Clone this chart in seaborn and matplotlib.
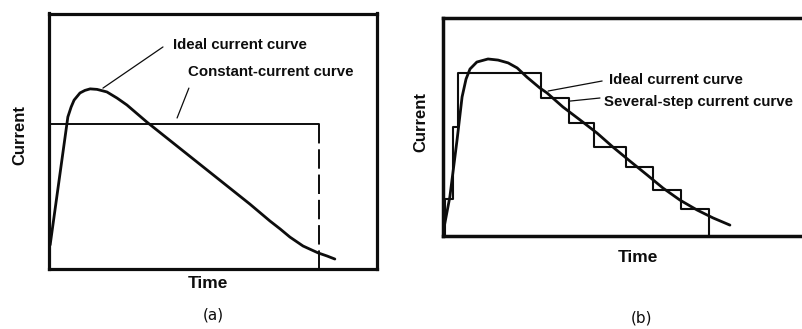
import matplotlib
matplotlib.use("Agg")
import matplotlib.pyplot as plt
import seaborn as sns

# ---------------- data (arbitrary units, 0-100 scale) ----------------
# Panel (a)
a_ideal_time = [0.5, 5.9, 6.9, 7.8, 9.6, 11.1, 12.7, 14.8, 17.8, 20.9, 23.9, 30.0,
                61.4, 67.5, 70.6, 73.6, 77.6, 82.2, 84.9, 87.3]
a_ideal_current = [9.4, 59.5, 63.4, 66.1, 68.9, 69.9, 70.5, 70.3, 69.3, 66.9, 64.2, 57.5,
                   25.4, 18.8, 15.7, 12.5, 9.0, 6.3, 5.1, 3.9]
a_const_time = [0.0, 82.5]
a_const_current = [56.8, 56.8]
a_cutoff_time = [82.5, 82.5]
a_cutoff_current = [56.8, 0.0]

# Panel (b)
b_ideal_time = [0.0, 1.9, 3.9, 5.3, 6.4, 7.5, 9.4, 12.5, 15.3, 18.1, 20.6, 23.3, 26.9,
                28.9, 33.3, 38.1, 42.8, 47.2, 51.9, 56.7, 61.1, 65.8, 70.6, 75.0, 79.7]
b_ideal_current = [1.4, 17.9, 44.0, 63.8, 72.0, 76.6, 79.8, 81.2, 80.7, 79.4, 77.1, 72.9, 67.9,
                   65.6, 59.2, 53.2, 47.2, 40.8, 34.4, 28.0, 22.0, 16.5, 11.9, 8.3, 5.0]
b_step_time = [0.6, 0.6, 2.8, 4.2, 27.2, 35.0, 41.9, 50.8, 58.3, 66.1, 73.9]
b_step_current = [0.0, 17.0, 50.0, 74.8, 63.3, 51.8, 40.8, 31.7, 21.1, 12.4, 0.0]

x_label = "Time"
y_label = "Current"
a_labels = ["Ideal current curve", "Constant-current curve"]
b_labels = ["Ideal current curve", "Several-step current curve"]
panel_tags = ["(a)", "(b)"]

# ---------------- figure ----------------
sns.set_theme(style="white")
plt.rcParams["font.family"] = ["Liberation Sans", "DejaVu Sans"]

W, H = 802, 329
fig = plt.figure(figsize=(W / 100, H / 100), dpi=100)
fig.patch.set_facecolor("white")


def fx(x):
    return x / W


def fy(y):
    return 1 - y / H


axA = fig.add_axes([fx(48.5), fy(269), 328 / W, 255.5 / H])
axB = fig.add_axes([fx(443), fy(236), 396 / W, 218 / H])

K = "#0d0d0d"

# Panel (a)
sns.lineplot(x=a_ideal_time, y=a_ideal_current, ax=axA, color=K, lw=2.0,
             estimator=None, sort=False)
sns.lineplot(x=a_const_time, y=a_const_current, ax=axA, color=K, lw=1.4,
             estimator=None, sort=False)
sns.lineplot(x=a_cutoff_time, y=a_cutoff_current, ax=axA, color=K, lw=1.4,
             estimator=None, sort=False, dashes=False, linestyle=(0, (10, 3)))
axA.set_xlim(0, 100)
axA.set_ylim(0, 100)

# Panel (b)
sns.lineplot(x=b_ideal_time, y=b_ideal_current, ax=axB, color=K, lw=2.0,
             estimator=None, sort=False)
sns.lineplot(x=b_step_time, y=b_step_current, ax=axB, color=K, lw=1.5,
             estimator=None, sort=False, drawstyle="steps-post")
axB.set_xlim(0, 110)
axB.set_ylim(0, 100)

for ax, lw in ((axA, 2.3), (axB, 2.5)):
    ax.set_xticks([])
    ax.set_yticks([])
    for s in ax.spines.values():
        s.set_visible(True)
        s.set_color(K)
        s.set_linewidth(lw)
    ax.set_facecolor("white")

# axis labels
lab = dict(fontweight="bold", color=K, ha="center", va="center")
axA.set_ylabel(y_label, fontsize=12, **lab)
axA.yaxis.set_label_coords((20 - 48.5) / 328, (269 - 135) / 255.5)
axA.set_xlabel(x_label, fontsize=12.5, **lab)
axA.xaxis.set_label_coords((208 - 48.5) / 328, (269 - 284) / 255.5)

axB.set_ylabel(y_label, fontsize=12, **lab)
axB.yaxis.set_label_coords((421 - 443) / 396, (236 - 122) / 218)
axB.set_xlabel(x_label, fontsize=12.5, **lab)
axB.xaxis.set_label_coords((638 - 443) / 396, (236 - 258) / 218)

# annotations with leader lines
lead = dict(arrowstyle="-", color=K, lw=0.9, shrinkA=0, shrinkB=0)
axA.annotate("", xy=(16.6, 70.8), xytext=(34.9, 86.9), arrowprops=lead)
axA.annotate("", xy=(39.2, 59.1), xytext=(42.8, 70.8), arrowprops=lead)
axB.annotate("", xy=(29.2, 66.5), xytext=(44.2, 71.1), arrowprops=lead)
axB.annotate("", xy=(35.3, 61.9), xytext=(43.6, 63.3), arrowprops=lead)

tkw = dict(fontsize=10.8, fontweight="bold", color=K, ha="left", va="center")
fig.text(fx(173), fy(45), a_labels[0], **tkw)
fig.text(fx(188), fy(72), a_labels[1], **tkw)
fig.text(fx(609), fy(80), b_labels[0], **tkw)
fig.text(fx(604), fy(102), b_labels[1], **tkw)

# panel tags
fig.text(fx(213), fy(315), panel_tags[0], fontsize=11, color=K, ha="center",
         va="center", family="DejaVu Sans")
fig.text(fx(642), fy(318), panel_tags[1], fontsize=11, color=K, ha="center",
         va="center", family="DejaVu Sans")

fig.savefig("out.png", dpi=100, facecolor="white")
